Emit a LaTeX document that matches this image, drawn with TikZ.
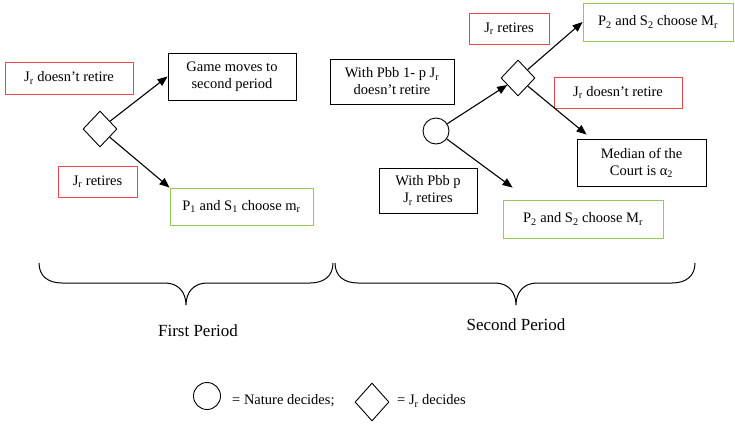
\documentclass[tikz,border=0pt]{standalone}
\usepackage{fontspec}
\setmainfont{Liberation Serif}
\usetikzlibrary{shapes.geometric,arrows.meta}
\definecolor{boxred}{RGB}{236,70,72}
\definecolor{boxgreen}{RGB}{146,204,84}
\begin{document}
\begin{tikzpicture}[x=1pt,y=-1pt,
  lbl/.style={font=\fontsize{14.5}{17}\selectfont, align=center, inner sep=0pt, line width=0.9pt},
  redbox/.style={lbl, draw=boxred},
  greenbox/.style={lbl, draw=boxgreen},
  blackbox/.style={lbl, draw=black},
  dec/.style={draw, shape=diamond, inner sep=0pt, minimum width=34pt, minimum height=36pt, line width=0.9pt},
  nat/.style={draw, circle, inner sep=0pt, minimum size=26pt, line width=0.9pt},
  arr/.style={line width=1.1pt, -{Triangle[length=10pt,width=8pt]}},
  brace/.style={line width=1pt},
  period/.style={font=\fontsize{17}{20}\selectfont, inner sep=0pt},
  legend/.style={font=\fontsize{14.5}{17}\selectfont, inner sep=0pt, anchor=west}
]
\useasboundingbox (0,0) rectangle (735,423);

% First period
\node[redbox, minimum width=128pt, minimum height=32pt] (r1) at (69,78) {J\textsubscript{r} doesn’t retire};
\node[blackbox, minimum width=128pt, minimum height=47pt] (g1) at (232,76.5) {Game moves to\\second period};
\node[dec] (d1) at (100,129) {};
\node[redbox, minimum width=79pt, minimum height=31pt] (r2) at (97.5,181.5) {J\textsubscript{r} retires};
\node[greenbox, minimum width=143pt, minimum height=37pt] (gr1) at (241.5,206.5) {P\textsubscript{1} and S\textsubscript{1} choose m\textsubscript{r}};

\draw[arr] (d1) -- (g1.west);
\draw[arr] (d1) -- (gr1.north west);

% Second period
\node[redbox, minimum width=80pt, minimum height=31pt] (r3) at (509,28.5) {J\textsubscript{r} retires};
\node[greenbox, minimum width=150pt, minimum height=38pt] (gr2) at (658,22) {P\textsubscript{2} and S\textsubscript{2} choose M\textsubscript{r}};
\node[blackbox, minimum width=124pt, minimum height=45pt] (b2) at (392,81.5) {With Pbb 1- p J\textsubscript{r}\\doesn’t retire};
\node[dec] (d2) at (518,78) {};
\node[redbox, minimum width=128pt, minimum height=31pt] (r4) at (618,92.5) {J\textsubscript{r} doesn’t retire};
\node[nat] (c) at (436,131) {};
\node[blackbox, minimum width=129pt, minimum height=47pt] (b3) at (641.5,162.5) {Median of the\\Court is α\textsubscript{2}};
\node[blackbox, minimum width=98pt, minimum height=45pt] (b4) at (428,190.5) {With Pbb p\\J\textsubscript{r} retires};
\node[greenbox, minimum width=160pt, minimum height=38pt] (gr3) at (583,219) {P\textsubscript{2} and S\textsubscript{2} choose M\textsubscript{r}};

\draw[arr] (c) -- (d2);
\draw[arr] (d2) -- (gr2.west);
\draw[arr] (d2) -- ([xshift=10pt,yshift=4pt]b3.north west);
\draw[arr] (c) -- ([xshift=10pt,yshift=12pt]gr3.north west);

% Braces
\draw[brace] (39,263) .. controls (39,276) and (48,283) .. (62,283) -- (165,283)
  .. controls (178,283) and (186,292) .. (186,305)
  .. controls (186,292) and (194,283) .. (207,283) -- (310,283)
  .. controls (324,283) and (333,276) .. (333,263);
\draw[brace] (335,263) .. controls (335,276) and (344,283) .. (358,283) -- (495,283)
  .. controls (508,283) and (516,292) .. (516,305)
  .. controls (516,292) and (524,283) .. (537,283) -- (672,283)
  .. controls (686,283) and (695,276) .. (695,263);
\node[period] (p1) at (198,331) {First Period};
\node[period] (p2) at (516,325) {Second Period};

% Legend
\node[nat, minimum size=27pt] (lc) at (207,396) {};
\node[legend] (lt1) at (232,401) {= Nature decides;};
\node[dec, minimum height=38pt] (ld) at (372,402) {};
\node[legend] (lt2) at (397,401) {= J\textsubscript{r} decides};
\end{tikzpicture}
\end{document}
